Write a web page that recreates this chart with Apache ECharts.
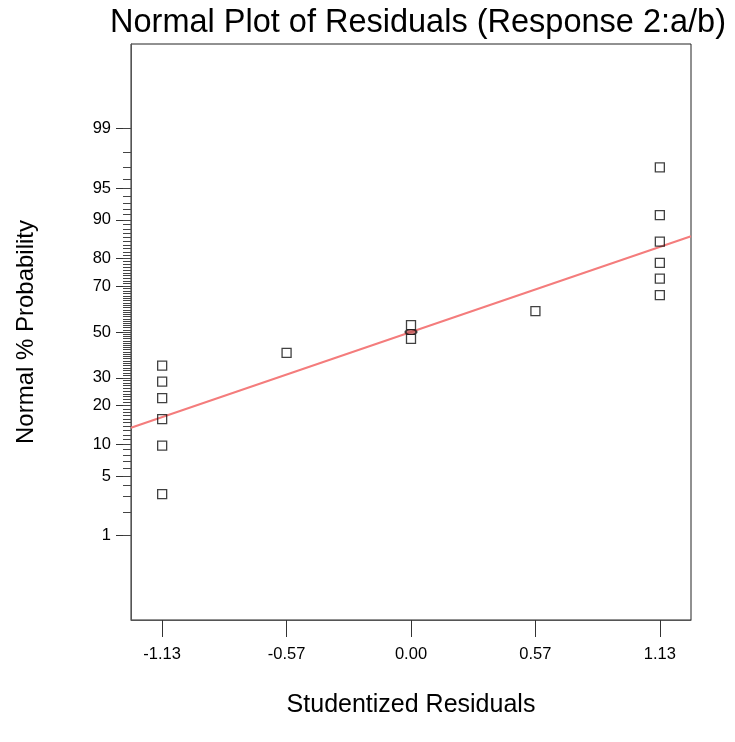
<!DOCTYPE html>
<html>
<head>
<meta charset="utf-8">
<script src="https://cdn.jsdelivr.net/npm/echarts@6/dist/echarts.min.js"></script>
<style>html,body{margin:0;padding:0;background:#fff}#c{width:735px;height:742px}</style>
</head>
<body>
<div id="c"></div>
<script>
// ---- data ----
const residuals = [-1.134,-1.134,-1.134,-1.134,-1.134,-1.134,-0.567,0,0,0.567,1.134,1.134,1.134,1.134,1.134,1.134];
const probPct   = [3.2,9.7,16.0,22.5,28.5,35.0,40.6,46.9,53.1,59.4,66.3,72.9,78.5,84.9,90.9,97.0];
const fitX      = [-1.276, 1.276];
const fitPct    = [13.7, 86.3];
const centerX   = [0];
const centerPct = [50];
const xTicks    = [-1.134, -0.567, 0, 0.567, 1.134];
const xTickText = ['-1.13', '-0.57', '0.00', '0.57', '1.13'];
const yMajor    = [1, 5, 10, 20, 30, 50, 70, 80, 90, 95, 99];
const yMinor    = [];
for (let p = 1; p <= 99; p++) yMinor.push(p);
const pRange    = [0.05, 99.95];

// inverse standard normal CDF (Acklam)
function probit(p) {
  const a=[-3.969683028665376e+01,2.209460984245205e+02,-2.759285104469687e+02,1.383577518672690e+02,-3.066479806614716e+01,2.506628277459239e+00];
  const b=[-5.447609879822406e+01,1.615858368580409e+02,-1.556989798598866e+02,6.680131188771972e+01,-1.328068155288572e+01];
  const c=[-7.784894002430293e-03,-3.223964580411365e-01,-2.400758277161838e+00,-2.549732539343734e+00,4.374664141464968e+00,2.938163982698783e+00];
  const d=[7.784695709041462e-03,3.224671290700398e-01,2.445134137142996e+00,3.754408661907416e+00];
  const pl=0.02425, ph=1-pl; let q,r;
  if (p<pl){q=Math.sqrt(-2*Math.log(p));return (((((c[0]*q+c[1])*q+c[2])*q+c[3])*q+c[4])*q+c[5])/((((d[0]*q+d[1])*q+d[2])*q+d[3])*q+1);}
  if (p<=ph){q=p-0.5;r=q*q;return (((((a[0]*r+a[1])*r+a[2])*r+a[3])*r+a[4])*r+a[5])*q/(((((b[0]*r+b[1])*r+b[2])*r+b[3])*r+b[4])*r+1);}
  q=Math.sqrt(-2*Math.log(1-p));return -(((((c[0]*q+c[1])*q+c[2])*q+c[3])*q+c[4])*q+c[5])/((((d[0]*q+d[1])*q+d[2])*q+d[3])*q+1);
}
const z = pct => probit(pct / 100);
const zMin = z(pRange[0]), zMax = z(pRange[1]);
const majorZ = yMajor.map(z);
const minorZ = yMinor.map(z);
function labelFor(v) {
  let best = 0, bd = 1e9;
  majorZ.forEach((m, i) => { const d = Math.abs(m - v); if (d < bd) { bd = d; best = i; } });
  return String(yMajor[best]);
}
function xLabelFor(v) {
  let best = 0, bd = 1e9;
  xTicks.forEach((m, i) => { const d = Math.abs(m - v); if (d < bd) { bd = d; best = i; } });
  return xTickText[best];
}

const font = 'Liberation Sans, Arial, sans-serif';
const chart = echarts.init(document.getElementById('c'), null, {renderer: 'canvas'});
chart.setOption({
  animation: false,
  backgroundColor: '#fff',
  title: {
    text: 'Normal Plot of Residuals (Response 2:a/b)',
    left: 413, top: 2, textAlign: 'center',
    textStyle: {fontFamily: font, fontSize: 32.5, fontWeight: 'normal', color: '#000'}
  },
  grid: {left: 131, right: 44, top: 44, bottom: 122, show: true, borderColor: '#222', borderWidth: 1, backgroundColor: 'transparent'},
  xAxis: {
    type: 'value', min: fitX[0], max: fitX[1],
    name: 'Studentized Residuals', nameLocation: 'middle', nameGap: 73,
    nameTextStyle: {fontFamily: font, fontSize: 25, color: '#000'},
    splitLine: {show: false},
    axisLine: {show: true, onZero: false, lineStyle: {color: '#555', width: 1}},
    axisTick: {show: true, customValues: xTicks, length: 17, lineStyle: {color: '#333', width: 1}},
    axisLabel: {customValues: xTicks, formatter: xLabelFor, margin: 26, fontFamily: font, fontSize: 16.5, color: '#000'}
  },
  yAxis: [{
    type: 'value', min: zMin, max: zMax, position: 'left',
    name: 'Normal % Probability', nameLocation: 'middle', nameGap: 93,
    nameTextStyle: {fontFamily: font, fontSize: 24, color: '#000'},
    splitLine: {show: false},
    axisLine: {show: true, onZero: false, lineStyle: {color: '#555', width: 1}},
    axisTick: {show: true, customValues: majorZ, length: 15, lineStyle: {color: '#333', width: 1}},
    axisLabel: {customValues: majorZ, formatter: labelFor, margin: 20, fontFamily: font, fontSize: 16.5, color: '#000'}
  }, {
    type: 'value', min: zMin, max: zMax, position: 'left', offset: 0,
    splitLine: {show: false},
    axisLine: {show: false, onZero: false},
    axisTick: {show: true, customValues: minorZ, length: 8, lineStyle: {color: '#444', width: 1}},
    axisLabel: {show: false}
  }],
  series: [{
    type: 'line', name: 'fit',
    data: fitX.map((x, i) => [x, z(fitPct[i])]),
    symbol: 'none', lineStyle: {color: '#f47c7c', width: 2}, z: 2
  }, {
    type: 'scatter', name: 'residuals',
    data: residuals.map((x, i) => [x, z(probPct[i])]),
    symbol: 'rect', symbolSize: 9,
    itemStyle: {color: 'rgba(255,255,255,0)', borderColor: '#111', borderWidth: 1.3}, z: 3
  }, {
    type: 'scatter', name: 'center',
    data: centerX.map((x, i) => [x, z(centerPct[i])]),
    symbol: 'circle', symbolSize: [11, 5],
    itemStyle: {color: '#c05a5a', borderColor: '#111', borderWidth: 1.5}, z: 4
  }]
});
</script>
</body>
</html>
